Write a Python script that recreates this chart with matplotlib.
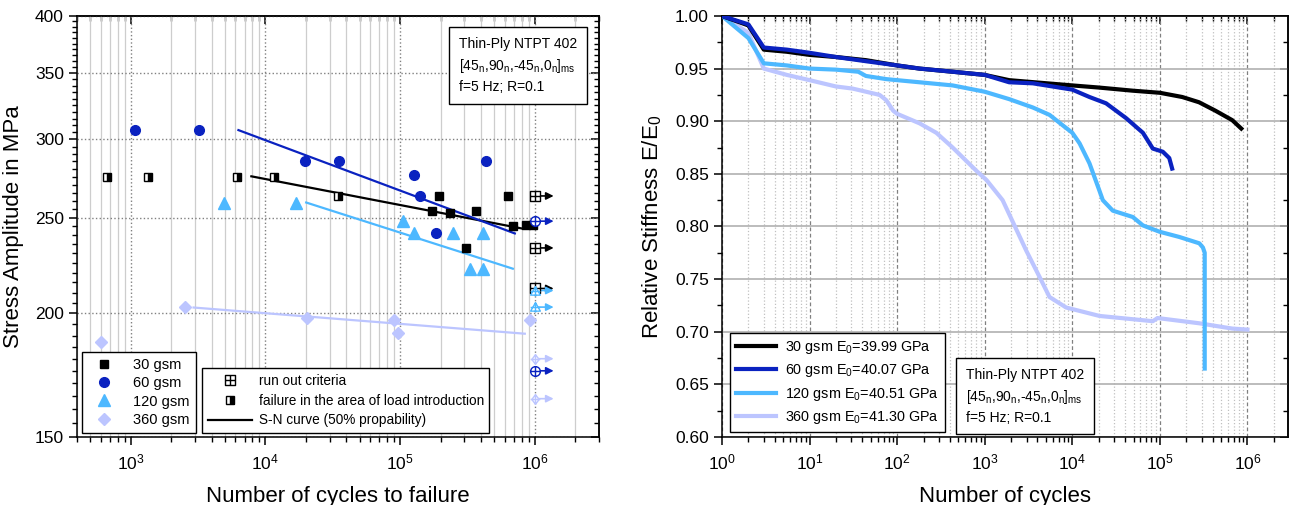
import numpy as np
import matplotlib
matplotlib.use('Agg')
import matplotlib.pyplot as plt
from matplotlib.path import Path
from matplotlib.lines import Line2D
from matplotlib.ticker import FixedLocator, NullFormatter, FormatStrFormatter

plt.rcParams['font.family'] = 'Liberation Sans'
plt.rcParams['mathtext.fontset'] = 'custom'
plt.rcParams['mathtext.rm'] = 'Liberation Sans'
plt.rcParams['mathtext.it'] = 'Liberation Sans:italic'
plt.rcParams['mathtext.default'] = 'regular'

## data: S-N diagram (left)
n_30 = [172600, 194500, 234600, 308000, 365000, 631000, 687000, 857000, 966000]
s_30 = [254, 263, 253, 233, 254, 263, 245, 246, 246]
n_30_load = [664, 1336, 6200, 11660, 34750]
s_30_load = [275, 275, 275, 275, 263]
n_60 = [1070, 3190, 19800, 35300, 127000, 140700, 184800, 434000]
s_60 = [307, 307, 285, 285, 276, 263, 241, 285]
n_120 = [4890, 16980, 105000, 127000, 247000, 412000, 330000, 412000]
s_120 = [259, 259, 248, 241, 241, 241, 222, 222]
n_360 = [600, 2510, 20500, 90300, 96700, 918000]
s_360 = [187, 203, 198, 197, 191, 197]

runout_n = 1e6
runout_30 = [263, 233, 212]
runout_60 = [248, 175]
runout_120 = [211, 203]
runout_360 = [180, 164]

# S-N curves (50% probability), start and end points
sn_n_30 = [7870, 802000]
sn_s_30 = [275.3, 243.8]
sn_n_60 = [6310, 711000]
sn_s_60 = [306.6, 241]
sn_n_120 = [20100, 687000]
sn_s_120 = [259, 222]
sn_n_360 = [2930, 843000]
sn_s_360 = [202.8, 190.8]

## data: stiffness degradation (right)
cyc_30 = [1, 2, 3, 5.5, 10, 20, 44, 100, 180, 430, 1000, 1900, 1e4, 2e4, 4.9e4, 1e5,
          1.8e5, 2.8e5, 4.3e5, 6.7e5, 8.5e5]
stiff_30 = [1.0, 0.991, 0.968, 0.966, 0.963, 0.961, 0.958, 0.953, 0.950, 0.947, 0.944,
            0.939, 0.934, 0.932, 0.929, 0.927, 0.923, 0.918, 0.910, 0.901, 0.893]
cyc_60 = [1, 2, 3, 5.5, 10, 20, 44, 100, 180, 430, 1000, 1900, 3550, 1e4, 1.57e4, 2.43e4,
          4.1e4, 6.4e4, 8.3e4, 1.08e5, 1.28e5, 1.38e5]
stiff_60 = [1.0, 0.992, 0.970, 0.968, 0.965, 0.961, 0.957, 0.953, 0.950, 0.947, 0.944,
            0.937, 0.936, 0.930, 0.923, 0.917, 0.903, 0.889, 0.874, 0.871, 0.865, 0.855]
cyc_120 = [1, 2, 3, 5.5, 10, 20, 36, 44, 75, 100, 180, 430, 1000, 1900, 3550, 5500, 7800,
           1e4, 1.21e4, 1.57e4, 2.04e4, 2.23e4, 2.9e4, 4.9e4, 6.4e4, 9.9e4, 1.67e5, 2.82e5,
           3.1e5, 3.25e5, 3.25e5]
stiff_120 = [1.0, 0.979, 0.955, 0.953, 0.950, 0.949, 0.947, 0.943, 0.940, 0.939, 0.937,
             0.934, 0.928, 0.921, 0.913, 0.906, 0.896, 0.889, 0.879, 0.860, 0.834, 0.825,
             0.815, 0.809, 0.801, 0.795, 0.790, 0.784, 0.780, 0.775, 0.665]
cyc_360 = [1, 2, 3, 5.5, 10, 20, 31, 63, 75, 90, 100, 180, 280, 430, 800, 1050, 1600, 2980,
           4230, 5490, 8510, 2.04e4, 8.3e4, 9.4e4, 2.82e5, 6.7e5, 1e6]
stiff_360 = [1.0, 0.984, 0.950, 0.944, 0.939, 0.933, 0.931, 0.925, 0.920, 0.910, 0.907,
             0.898, 0.889, 0.875, 0.853, 0.844, 0.825, 0.777, 0.752, 0.733, 0.723, 0.715,
             0.710, 0.713, 0.708, 0.703, 0.702]

labels_gsm = ['30 gsm', '60 gsm', '120 gsm', '360 gsm']
e0_labels = ['30 gsm E$_0$=39.99 GPa', '60 gsm E$_0$=40.07 GPa',
             '120 gsm E$_0$=40.51 GPa', '360 gsm E$_0$=41.30 GPa']

c_30 = '#000000'
c_60 = '#0a22c0'
c_120 = '#4db8ff'
c_360 = '#bcc5ff'


## custom markers with a cross inside (run outs)
def with_cross(verts):
    codes = [Path.MOVETO] + [Path.LINETO] * (len(verts) - 2) + [Path.CLOSEPOLY]
    outline = Path(verts, codes)
    cross = Path([(0, -1), (0, 1), (-1, 0), (1, 0)],
                 [Path.MOVETO, Path.LINETO, Path.MOVETO, Path.LINETO])
    return Path.make_compound_path(outline, cross)


m_square = with_cross([(-1, -1), (1, -1), (1, 1), (-1, 1), (-1, -1)])
m_circle = Path.make_compound_path(Path.unit_circle(),
                                   Path([(0, -1), (0, 1), (-1, 0), (1, 0)],
                                        [Path.MOVETO, Path.LINETO, Path.MOVETO, Path.LINETO]))
m_triangle = with_cross([(0, 1), (-1, -0.75), (1, -0.75), (0, 1)])
m_diamond = with_cross([(0, 1), (-0.75, 0), (0, -1), (0.75, 0), (0, 1)])

fig = plt.figure(figsize=(12.93, 5.05), dpi=100)
ax1 = fig.add_axes([0.0596, 0.1347, 0.4037, 0.8337])
ax2 = fig.add_axes([0.5584, 0.1347, 0.4377, 0.8337])

## left: S-N curves
ax1.set_xscale('log')
ax1.set_yscale('log')

ax1.plot(sn_n_30, sn_s_30, color=c_30, lw=1.6, zorder=3)
ax1.plot(sn_n_60, sn_s_60, color=c_60, lw=1.6, zorder=3)
ax1.plot(sn_n_120, sn_s_120, color=c_120, lw=1.6, zorder=3)
ax1.plot(sn_n_360, sn_s_360, color=c_360, lw=1.6, zorder=3)

ax1.plot(n_30, s_30, 's', color=c_30, ms=6, zorder=4)
ax1.plot(n_30_load, s_30_load, 's', fillstyle='right', mfc=c_30, mfcalt='white',
         mec=c_30, ms=6, mew=1, zorder=4)
ax1.plot(n_60, s_60, 'o', color=c_60, ms=7, zorder=4)
ax1.plot(n_120, s_120, '^', color=c_120, ms=8, zorder=4)
ax1.plot(n_360, s_360, 'D', color=c_360, ms=6.5, zorder=4)

runouts = [(runout_30, c_30, m_square), (runout_60, c_60, m_circle),
           (runout_120, c_120, m_triangle), (runout_360, c_360, m_diamond)]
for vals, col, mk in runouts:
    for s in vals:
        ax1.annotate('', xy=(1.38e6, s), xytext=(runout_n, s),
                     arrowprops=dict(arrowstyle='-|>', color=col, lw=1.2,
                                     mutation_scale=11, shrinkA=0, shrinkB=0), zorder=4)
    ax1.plot([runout_n] * len(vals), vals, ls='none', marker=mk, mfc='white', mec=col,
             ms=7, mew=1, zorder=5)

ax1.set_xlim(400, 3e6)
ax1.set_ylim(150, 400)
ytk = [150, 200, 250, 300, 350, 400]
ax1.yaxis.set_major_locator(FixedLocator(ytk))
ax1.yaxis.set_major_formatter(FormatStrFormatter('%d'))
ax1.yaxis.set_minor_locator(FixedLocator(np.arange(150, 401, 5)))
ax1.yaxis.set_minor_formatter(NullFormatter())
ax1.xaxis.set_minor_formatter(NullFormatter())

ax1.grid(which='major', axis='x', ls=':', color='#808080', lw=1)
ax1.grid(which='minor', axis='x', ls='-', color='#cdcdcd', lw=0.9)
ax1.grid(which='major', axis='y', ls=':', color='#808080', lw=1)
ax1.set_axisbelow(True)

ax1.set_xlabel('Number of cycles to failure', fontsize=16, labelpad=10)
ax1.set_ylabel('Stress Amplitude in MPa', fontsize=16, labelpad=8)

ax1.text(0.732, 0.95, 'Thin-Ply NTPT 402\n[45$_\\mathrm{n}$,90$_\\mathrm{n}$,-45$_\\mathrm{n}$,0$_\\mathrm{n}$]$_\\mathrm{ms}$\nf=5 Hz; R=0.1',
         transform=ax1.transAxes, ha='left', va='top', fontsize=10, linespacing=1.45,
         bbox=dict(boxstyle='square,pad=0.7', fc='white', ec='black', lw=1), zorder=6)

h1 = [Line2D([], [], ls='none', marker='s', color=c_30, ms=6),
      Line2D([], [], ls='none', marker='o', color=c_60, ms=7),
      Line2D([], [], ls='none', marker='^', color=c_120, ms=8),
      Line2D([], [], ls='none', marker='D', color=c_360, ms=6.5)]
leg1 = ax1.legend(h1, labels_gsm, loc='lower left', bbox_to_anchor=(0.01, 0.01),
                  borderaxespad=0, fontsize=10.5, frameon=True, fancybox=False,
                  edgecolor='black', framealpha=1, handlelength=2.2, handletextpad=0.9,
                  labelspacing=0.3)
leg1.get_frame().set_linewidth(1)
ax1.add_artist(leg1)

h2 = [Line2D([], [], ls='none', marker=m_square, mfc='white', mec='black', ms=7, mew=1),
      Line2D([], [], ls='none', marker='s', fillstyle='right', mfc='black', mfcalt='white',
             mec='black', ms=6),
      Line2D([], [], color='black', lw=1.6)]
leg2 = ax1.legend(h2, ['run out criteria', 'failure in the area of load introduction',
                       'S-N curve (50% propability)'],
                  loc='lower left', bbox_to_anchor=(0.2395, 0.01), borderaxespad=0,
                  fontsize=9.8, frameon=True, fancybox=False, edgecolor='black',
                  framealpha=1, handlelength=3.3, handletextpad=0.45, labelspacing=0.42)
leg2.get_frame().set_linewidth(1)

## right: stiffness degradation
ax2.set_xscale('log')
ax2.plot(cyc_30, stiff_30, color=c_30, lw=3, label=e0_labels[0], zorder=4)
ax2.plot(cyc_60, stiff_60, color=c_60, lw=3, label=e0_labels[1], zorder=4)
ax2.plot(cyc_120, stiff_120, color=c_120, lw=3, label=e0_labels[2], zorder=3)
ax2.plot(cyc_360, stiff_360, color=c_360, lw=3, label=e0_labels[3], zorder=2)

ax2.set_xlim(1, 2.9e6)
ax2.set_ylim(0.6, 1.0)
ax2.yaxis.set_major_locator(FixedLocator(np.arange(0.6, 1.001, 0.05)))
ax2.yaxis.set_major_formatter(FormatStrFormatter('%.2f'))
ax2.yaxis.set_minor_locator(FixedLocator(np.arange(0.6, 1.001, 0.025)))
ax2.xaxis.set_minor_formatter(NullFormatter())

ax2.grid(which='major', axis='y', ls='-', color='#b0b0b0', lw=1.2)
ax2.grid(which='major', axis='x', ls=(0, (3, 2)), color='#808080', lw=0.9)
ax2.grid(which='minor', axis='x', ls=':', color='#c0c0c0', lw=0.9)
ax2.set_axisbelow(True)

ax2.set_xlabel('Number of cycles', fontsize=16, labelpad=10)
ax2.set_ylabel('Relative Stiffness E/E$_0$', fontsize=16, labelpad=8)

leg3 = ax2.legend(loc='lower left', bbox_to_anchor=(0.014, 0.012), borderaxespad=0,
                  fontsize=10.4, frameon=True, fancybox=False, edgecolor='black',
                  framealpha=1, handlelength=2.8, handletextpad=0.6, labelspacing=0.45)
leg3.get_frame().set_linewidth(1)

ax2.text(0.431, 0.164, 'Thin-Ply NTPT 402\n[45$_\\mathrm{n}$,90$_\\mathrm{n}$,-45$_\\mathrm{n}$,0$_\\mathrm{n}$]$_\\mathrm{ms}$\nf=5 Hz; R=0.1',
         transform=ax2.transAxes, ha='left', va='top', fontsize=10, linespacing=1.45,
         bbox=dict(boxstyle='square,pad=0.7', fc='white', ec='black', lw=1), zorder=6)

## ticks: out on left/bottom, in on top/right
for ax in (ax1, ax2):
    for sp in ax.spines.values():
        sp.set_linewidth(1.1)
    ax.tick_params(which='major', direction='out', length=6, width=1.1, labelsize=12.5)
    ax.tick_params(which='minor', direction='out', length=3.5, width=1)
    ax.tick_params(axis='x', pad=5)

    top = ax.secondary_xaxis('top')
    top.tick_params(which='major', direction='in', length=6, width=1.1, labeltop=False)
    top.tick_params(which='minor', direction='in', length=3.5, width=1)
    top.xaxis.set_major_formatter(NullFormatter())
    top.xaxis.set_minor_formatter(NullFormatter())

    right = ax.secondary_yaxis('right')
    right.yaxis.set_major_locator(FixedLocator(ax.yaxis.get_majorticklocs()))
    right.yaxis.set_minor_locator(FixedLocator(ax.yaxis.get_minorticklocs()))
    right.tick_params(which='major', direction='in', length=6, width=1.1, labelright=False)
    right.tick_params(which='minor', direction='in', length=3.5, width=1)
    right.yaxis.set_major_formatter(NullFormatter())
    right.yaxis.set_minor_formatter(NullFormatter())
    for sp in list(top.spines.values()) + list(right.spines.values()):
        sp.set_linewidth(1.1)

fig.savefig('out.png', dpi=100)
